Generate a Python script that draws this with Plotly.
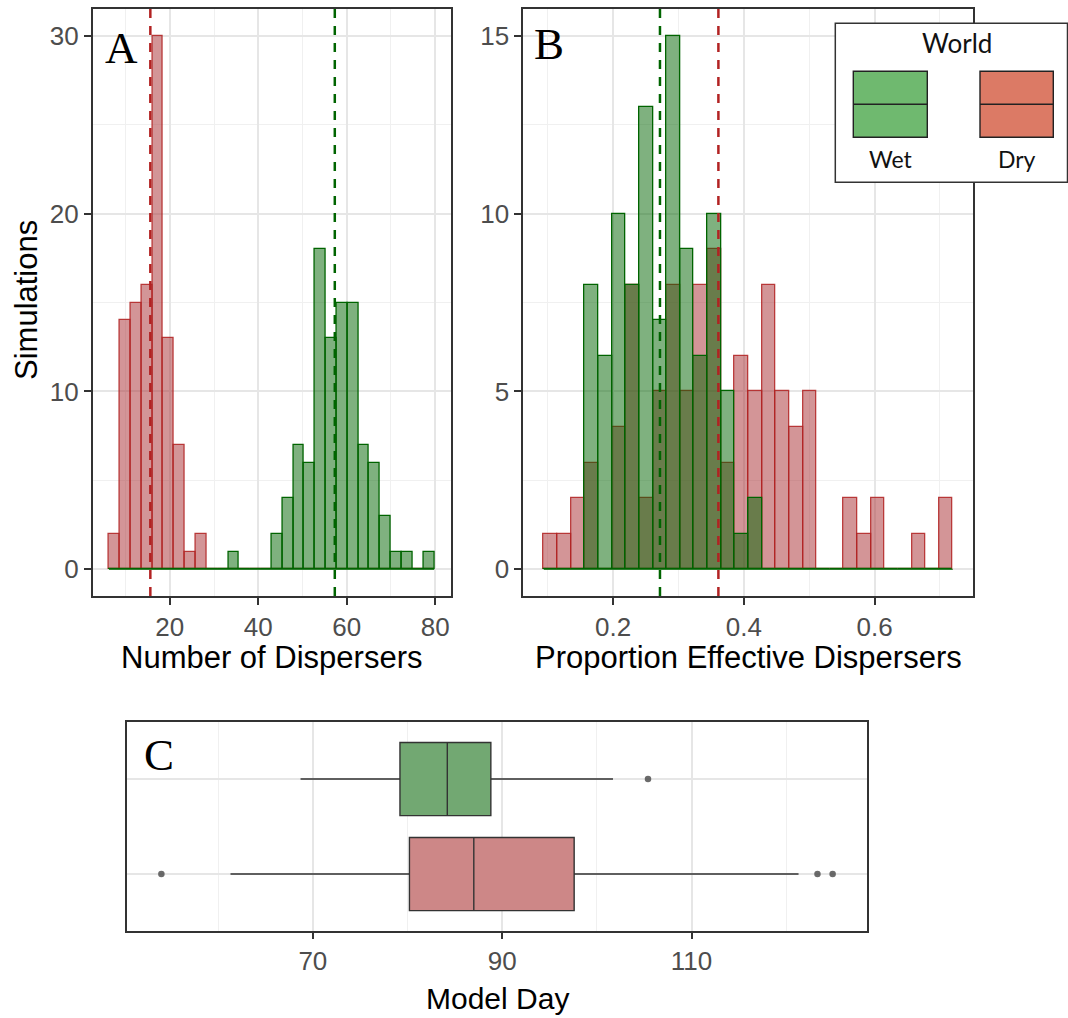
import numpy as np
import plotly.graph_objects as go

# ---------------- data ----------------
worlds = ["Wet", "Dry"]

# Panel A: number of dispersers, 30 shared bins over the data range
disp_range = [6.25, 79.78]
disp_dry = [2, 14, 15, 16, 30, 13, 7, 1, 2, 0, 0, 0, 0, 0, 0,
            0, 0, 0, 0, 0, 0, 0, 0, 0, 0, 0, 0, 0, 0, 0]
disp_wet = [0, 0, 0, 0, 0, 0, 0, 0, 0, 0, 0, 1, 0, 0, 0,
            2, 4, 7, 6, 18, 13, 15, 15, 7, 6, 3, 1, 1, 0, 1]
disp_mean = {"Dry": 15.6, "Wet": 57.3}

# Panel B: proportion effective dispersers, 30 shared bins
prop_range = [0.0938, 0.7196]
prop_dry = [1, 1, 2, 3, 0, 4, 8, 2, 5, 8, 5, 8, 9, 3, 6,
            5, 8, 5, 4, 5, 0, 0, 2, 1, 2, 0, 0, 1, 0, 2]
prop_wet = [0, 0, 0, 8, 6, 10, 8, 13, 7, 15, 9, 6, 10, 5, 1,
            2, 0, 0, 0, 0, 0, 0, 0, 0, 0, 0, 0, 0, 0, 0]
prop_mean = {"Dry": 0.361, "Wet": 0.2716}

# Panel C: model day box plots
box_world = ["Dry", "Wet"]
box_pos = [1, 2]
box_lowerfence = [61.3, 68.7]
box_q1 = [80.2, 79.2]
box_median = [87.0, 84.2]
box_q3 = [97.6, 88.8]
box_upperfence = [121.3, 101.7]
outliers_dry = [54.0, 123.3, 124.9]
outliers_wet = [105.4]

# tick labels
ticks_a_x = [20, 40, 60, 80]
ticks_a_y = [0, 10, 20, 30]
ticks_b_x = [0.2, 0.4, 0.6]
ticks_b_y = [0, 5, 10, 15]
ticks_c_x = [70, 90, 110]

# ---------------- styles ----------------
W, H = 1068, 1018
def PX(v): return v / W
def PY(v): return 1 - v / H

FILL = {"Dry": "rgba(168,44,48,0.5)", "Wet": "rgba(0,100,0,0.5)"}
EDGE = {"Dry": "rgba(178,34,34,0.85)", "Wet": "rgb(0,100,0)"}
VLINE = {"Dry": "rgb(178,34,34)", "Wet": "rgb(0,100,0)"}
BOXFILL = {"Dry": "#cd8787", "Wet": "#72a872"}
KEYFILL = {"Wet": "#6fb96f", "Dry": "#dc7a65"}
SANS = "Liberation Sans, Arial, sans-serif"
SERIF = "Liberation Serif, Times New Roman, serif"
LEGF = "Lato, Open Sans, sans-serif"

fig = go.Figure()

def add_hist(rng, counts_by_world, xa, ya):
    edges = np.linspace(rng[0], rng[1], len(counts_by_world["Dry"]) + 1)
    centers = (edges[:-1] + edges[1:]) / 2
    bw = edges[1] - edges[0]
    for w in ["Dry", "Wet"]:
        fig.add_trace(go.Bar(
            x=centers, y=counts_by_world[w], width=bw,
            marker=dict(color=FILL[w], line=dict(color=EDGE[w], width=1.3)),
            xaxis=xa, yaxis=ya, showlegend=False, hoverinfo="skip"))
    fig.add_trace(go.Scatter(
        x=[edges[0], edges[-1]], y=[0, 0], mode="lines",
        line=dict(color="rgba(0,100,0,0.8)", width=1.3),
        xaxis=xa, yaxis=ya, showlegend=False, hoverinfo="skip"))

add_hist(disp_range, {"Dry": disp_dry, "Wet": disp_wet}, "x", "y")
add_hist(prop_range, {"Dry": prop_dry, "Wet": prop_wet}, "x2", "y2")

# box plots
for i, w in enumerate(box_world):
    fig.add_trace(go.Box(
        orientation="h", y=[box_pos[i]],
        lowerfence=[box_lowerfence[i]], q1=[box_q1[i]], median=[box_median[i]],
        q3=[box_q3[i]], upperfence=[box_upperfence[i]],
        width=0.77, whiskerwidth=0, boxpoints=False,
        fillcolor=BOXFILL[w], line=dict(color="#333333", width=1.4),
        xaxis="x3", yaxis="y3", showlegend=False, hoverinfo="skip"))
for w, vals, pos in [("Dry", outliers_dry, 1), ("Wet", outliers_wet, 2)]:
    fig.add_trace(go.Scatter(
        x=vals, y=[pos] * len(vals), mode="markers",
        marker=dict(color="rgba(70,70,70,0.8)", size=6.5),
        xaxis="x3", yaxis="y3", showlegend=False, hoverinfo="skip"))

# mean lines
shapes = []
for w in ["Dry", "Wet"]:
    shapes.append(dict(type="line", xref="x", yref="y domain", x0=disp_mean[w], x1=disp_mean[w],
                       y0=0, y1=1, line=dict(color=VLINE[w], width=2.5, dash="9px,8px"), layer="above"))
    shapes.append(dict(type="line", xref="x2", yref="y2 domain", x0=prop_mean[w], x1=prop_mean[w],
                       y0=0, y1=1, line=dict(color=VLINE[w], width=2.5, dash="9px,8px"), layer="above"))

# legend box (drawn manually)
shapes.append(dict(type="rect", xref="paper", yref="paper", x0=PX(835.3), x1=PX(1067.5),
                   y0=PY(182.3), y1=PY(23.3), fillcolor="white",
                   line=dict(color="#333333", width=1.5), layer="above"))
key_x = {"Wet": (853.3, 927.3), "Dry": (980.0, 1053.3)}
for w in worlds:
    x0, x1 = key_x[w]
    shapes.append(dict(type="rect", xref="paper", yref="paper", x0=PX(x0), x1=PX(x1),
                       y0=PY(137.3), y1=PY(71.3), fillcolor=KEYFILL[w],
                       line=dict(color="#222222", width=1.4), layer="above"))
    shapes.append(dict(type="line", xref="paper", yref="paper", x0=PX(x0), x1=PX(x1),
                       y0=PY(104.3), y1=PY(104.3), line=dict(color="#222222", width=1.4), layer="above"))

annotations = []
def ann(text, x, y, size, family=SANS, color="black", angle=0):
    annotations.append(dict(text=text, x=PX(x), y=PY(y), xref="paper", yref="paper",
                            showarrow=False, xanchor="center", yanchor="middle",
                            textangle=angle, font=dict(family=family, size=size, color=color)))

ann("Number of Dispersers", 271.5, 657, 31)
ann("Proportion Effective Dispersers", 748, 657, 31)
ann("Simulations", 27, 300, 31, angle=-90)
ann("Model Day", 497, 998, 30)
ann("A", 121, 48, 45, family=SERIF)
ann("B", 549, 44, 45, family=SERIF)
ann("C", 159, 755, 45, family=SERIF)
ann("World", 956.7, 43.3, 26, family=LEGF, color="#111111")
ann("Wet", 891.3, 159, 23, family=LEGF, color="#111111")
ann("Dry", 1017.3, 159, 23, family=LEGF, color="#111111")

GRID = "#e6e6e6"
MINOR = "#f0f0f0"
def axis_common(**kw):
    d = dict(showline=True, mirror=True, linecolor="#333333", linewidth=1.8,
             ticks="outside", ticklen=7, tickwidth=1.6, tickcolor="#333333",
             tickfont=dict(family=SANS, size=26, color="#4d4d4d"),
             showgrid=True, gridcolor=GRID, gridwidth=1.7, zeroline=False,
             fixedrange=True)
    d.update(kw)
    return d

MINOR_GRID = dict(showgrid=True, gridcolor=MINOR, gridwidth=1.0)

fig.update_layout(
    width=W, height=H, margin=dict(l=0, r=0, t=0, b=0),
    paper_bgcolor="white", plot_bgcolor="white",
    barmode="overlay", bargap=0, showlegend=False,
    shapes=shapes, annotations=annotations,
    xaxis=axis_common(domain=[PX(92.7), PX(450.5)], range=[2.57, 83.46],
                      tickvals=ticks_a_x, anchor="y",
                      minor=dict(dtick=10, tick0=0, **MINOR_GRID)),
    yaxis=axis_common(domain=[1 - 596 / H, 1 - 9 / H], range=[-1.5, 31.5],
                      tickvals=ticks_a_y, anchor="x",
                      minor=dict(dtick=5, tick0=0, **MINOR_GRID)),
    xaxis2=axis_common(domain=[PX(523.3), PX(973.3)], range=[0.0625, 0.751],
                       tickvals=ticks_b_x, ticktext=[f"{v:.1f}" for v in ticks_b_x], anchor="y2",
                       minor=dict(dtick=0.1, tick0=0, **MINOR_GRID)),
    yaxis2=axis_common(domain=[1 - 596 / H, 1 - 9 / H], range=[-0.75, 15.75],
                       tickvals=ticks_b_y, anchor="x2",
                       minor=dict(dtick=2.5, tick0=0, **MINOR_GRID)),
    xaxis3=axis_common(domain=[PX(127.3), PX(866.7)], range=[50.4, 128.5],
                       tickvals=ticks_c_x, anchor="y3", ticklen=6,
                       minor=dict(dtick=10, tick0=0, **MINOR_GRID)),
    yaxis3=axis_common(domain=[1 - 931 / H, 1 - 722 / H], range=[0.4, 2.6],
                       tickvals=box_pos, showticklabels=False, ticks="", anchor="x3"),
)

fig.write_html("out.html")
